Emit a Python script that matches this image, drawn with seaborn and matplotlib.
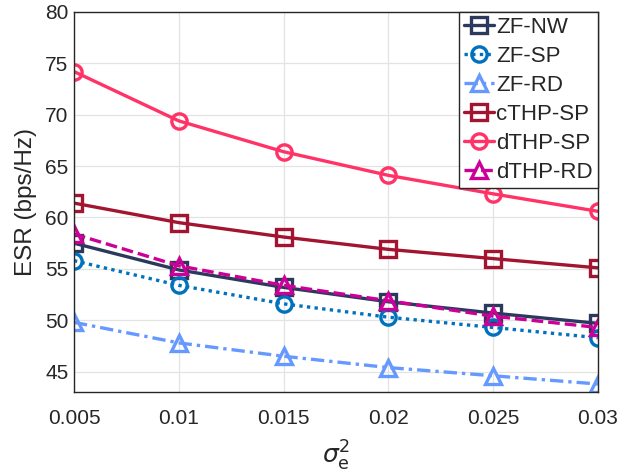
import matplotlib
matplotlib.use("Agg")
import matplotlib.pyplot as plt
import seaborn as sns
import pandas as pd

# ---- data ----
sigma2 = [0.005, 0.01, 0.015, 0.02, 0.025, 0.03]
zf_nw = [57.5, 54.9, 53.2, 51.8, 50.7, 49.7]
zf_sp = [55.8, 53.4, 51.6, 50.3, 49.3, 48.3]
zf_rd = [49.8, 47.8, 46.5, 45.4, 44.6, 43.8]
cthp_sp = [61.4, 59.5, 58.1, 56.9, 56.0, 55.1]
dthp_sp = [74.2, 69.4, 66.4, 64.1, 62.3, 60.6]
dthp_rd = [58.4, 55.3, 53.4, 51.9, 50.4, 49.3]

names = ["ZF-NW", "ZF-SP", "ZF-RD", "cTHP-SP", "dTHP-SP", "dTHP-RD"]
series = [zf_nw, zf_sp, zf_rd, cthp_sp, dthp_sp, dthp_rd]
xticks = [0.005, 0.01, 0.015, 0.02, 0.025, 0.03]
xticklabels = ["0.005", "0.01", "0.015", "0.02", "0.025", "0.03"]
yticks = [45, 50, 55, 60, 65, 70, 75, 80]

styles = {
    "ZF-NW": dict(color="#2B3A5C", marker="s", linestyle="-"),
    "ZF-SP": dict(color="#0072BD", marker="o", linestyle=(0, (1, 1.3))),
    "ZF-RD": dict(color="#6699FF", marker="^", linestyle=(0, (4, 1.5, 1, 1.5))),
    "cTHP-SP": dict(color="#A2142F", marker="s", linestyle="-"),
    "dTHP-SP": dict(color="#FF3366", marker="o", linestyle="-"),
    "dTHP-RD": dict(color="#CC0099", marker="^", linestyle=(0, (3.5, 1.5))),
}

sns.set_style("white")
plt.rcParams["font.family"] = ["Liberation Sans", "DejaVu Sans"]
plt.rcParams["mathtext.fontset"] = "dejavusans"

fig = plt.figure(figsize=(6.32, 4.76), dpi=100)
ax = fig.add_axes([0.117, 0.176, 0.829, 0.799])

for name, vals in zip(names, series):
    df = pd.DataFrame({"x": sigma2, "y": vals})
    st = styles[name]
    sns.lineplot(data=df, x="x", y="y", ax=ax, label=name,
                 color=st["color"], linestyle=st["linestyle"],
                 marker=st["marker"], markersize=11,
                 markerfacecolor="none", markeredgecolor=st["color"],
                 markeredgewidth=2.4, linewidth=2.4)

ax.set_xlim(0.005, 0.03)
ax.set_ylim(43, 80)
ax.set_xticks(xticks)
ax.set_xticklabels(xticklabels)
ax.set_yticks(yticks)
ax.tick_params(axis="both", labelsize=15, direction="in", length=4,
               color="#262626", labelcolor="#262626")
ax.tick_params(axis="x", pad=12)
ax.tick_params(axis="y", pad=4)
ax.grid(True, color="#E3E3E3", linewidth=0.9)
for s in ax.spines.values():
    s.set_visible(True)
    s.set_color("#262626")
    s.set_linewidth(1.0)

ax.set_xlabel(r"$\sigma^2_{\mathrm{e}}$", fontsize=18, color="#262626", labelpad=8)
ax.set_ylabel("ESR (bps/Hz)", fontsize=17.5, color="#262626", labelpad=6)

leg = ax.legend(loc="upper right", fontsize=16, frameon=True, fancybox=False,
                borderaxespad=0.0, handlelength=1.35, handletextpad=0.1,
                labelspacing=0.36, borderpad=0.22, framealpha=1)
leg.get_frame().set_edgecolor("#262626")
leg.get_frame().set_linewidth(1.0)

fig.savefig("out.png", dpi=100)
